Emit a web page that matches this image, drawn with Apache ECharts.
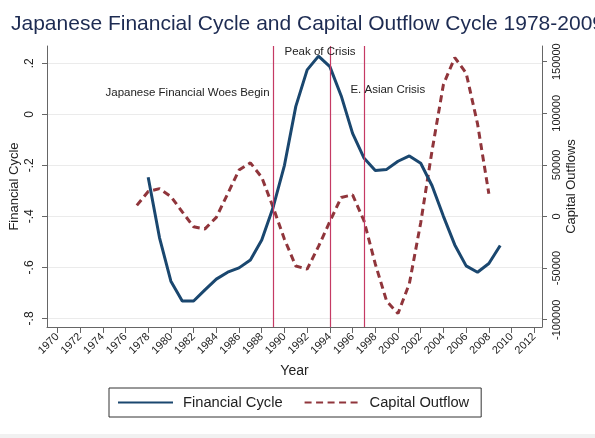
<!DOCTYPE html>
<html>
<head>
<meta charset="utf-8">
<script src="https://cdn.jsdelivr.net/npm/echarts@6/dist/echarts.min.js"></script>
<style>
  html, body { margin: 0; padding: 0; background: #fff; }
  #chart { width: 595px; height: 438px; }
</style>
</head>
<body>
<div id="chart"></div>
<script>
// financial cycle, 1978-2009
const finYears = [1978, 1979, 1980, 1981, 1982, 1983, 1984, 1985, 1986, 1987, 1988, 1989, 1990, 1991, 1992, 1993,
  1994, 1995, 1996, 1997, 1998, 1999, 2000, 2001, 2002, 2003, 2004, 2005, 2006, 2007, 2008, 2009]
const finCycle = [-0.247, -0.484, -0.654, -0.732, -0.732, -0.688, -0.646, -0.619, -0.602, -0.571, -0.493, -0.365,
  -0.200, 0.031, 0.174, 0.228, 0.187, 0.072, -0.075, -0.171, -0.220, -0.216, -0.184, -0.163, -0.192, -0.280,
  -0.400, -0.512, -0.594, -0.619, -0.585, -0.514]

// capital outflow cycle, 1977-2008
const capYears = [1977, 1978, 1979, 1980, 1981, 1982, 1983, 1984, 1985, 1986, 1987, 1988, 1989, 1990, 1991, 1992,
  1993, 1994, 1995, 1996, 1997, 1998, 1999, 2000, 2001, 2002, 2003, 2004, 2005, 2006, 2007, 2008]
const capOutflow = [10800, 24200, 27000, 19400, 4500, -10000, -12000, -800, 22000, 45000, 52000, 38000, 9000,
  -22000, -48000, -51000, -29000, -4800, 18500, 21000, -4000, -46000, -82000, -94000, -65000, -6000, 64000,
  128000, 154000, 139000, 90000, 22000]

const xTicks = [1970, 1972, 1974, 1976, 1978, 1980, 1982, 1984, 1986, 1988, 1990, 1992, 1994, 1996, 1998, 2000,
  2002, 2004, 2006, 2008, 2010, 2012]
const leftTicks = [-0.8, -0.6, -0.4, -0.2, 0, 0.2]
const rightTicks = [-100000, -50000, 0, 50000, 100000, 150000]

const eventYears = [1989, 1994, 1997]
const eventNames = ['Japanese Financial Woes Begin', 'Peak of Crisis', 'E. Asian Crisis']

const font = 'Liberation Sans'
const axisColor = '#666'
const textColor = '#222'

function fmtLeft(v) {
  if (Math.abs(v) < 1e-9) return '0'
  return String(v).replace('0.', '.')
}

const chart = echarts.init(document.getElementById('chart'))
const option = {
  backgroundColor: '#fff',
  animation: false,
  textStyle: { fontFamily: font },
  title: {
    text: 'Japanese Financial Cycle and Capital Outflow Cycle 1978-2009',
    left: 6,
    top: 9,
    textStyle: { fontSize: 21, fontWeight: 'normal', color: '#1d2b52', fontFamily: font }
  },
  grid: { left: 47, right: 53, top: 46, bottom: 111, containLabel: false, outerBoundsMode: 'none' },
  legend: {
    left: 109,
    top: 388,
    padding: [7, 12, 7, 8],
    itemGap: 21,
    itemWidth: 55,
    itemHeight: 14,
    borderColor: '#333',
    borderWidth: 1,
    itemStyle: { opacity: 0 },
    textStyle: { fontSize: 14.7, color: textColor, fontFamily: font, padding: [0, 0, 0, 5] },
    data: ['Financial Cycle', 'Capital Outflow']
  },
  xAxis: {
    type: 'value',
    min: 1969.09,
    max: 2012.68,
    name: 'Year',
    nameLocation: 'middle',
    nameGap: 37,
    nameMoveOverlap: false,
    nameTextStyle: { fontSize: 14, color: textColor },
    axisLine: { show: true, onZero: false, lineStyle: { color: axisColor } },
    axisTick: { show: true, length: 6, customValues: xTicks, lineStyle: { color: axisColor } },
    axisLabel: { customValues: xTicks, rotate: 45, fontSize: 11, color: textColor, margin: 8, formatter: v => String(v) },
    splitLine: { show: false }
  },
  yAxis: [
    {
      type: 'value',
      position: 'left',
      min: -0.8337,
      max: 0.2677,
      name: 'Financial Cycle',
      nameLocation: 'middle',
      nameRotate: 90,
      nameGap: 26,
      nameMoveOverlap: false,
      nameTextStyle: { fontSize: 13, color: textColor },
      axisLine: { show: true, lineStyle: { color: axisColor } },
      axisTick: { show: true, length: 5, customValues: leftTicks, lineStyle: { color: axisColor } },
      axisLabel: { customValues: leftTicks, rotate: 90, fontSize: 12, color: textColor, margin: 11, formatter: fmtLeft },
      splitLine: { show: true, lineStyle: { color: '#ebebeb', width: 1 } }
    },
    {
      type: 'value',
      position: 'right',
      min: -107046,
      max: 165215,
      name: 'Capital Outflows',
      nameLocation: 'middle',
      nameRotate: 90,
      nameGap: 23,
      nameMoveOverlap: false,
      nameTextStyle: { fontSize: 13, color: textColor },
      axisLine: { show: true, lineStyle: { color: axisColor } },
      axisTick: { show: true, length: 5, customValues: rightTicks, lineStyle: { color: axisColor } },
      axisLabel: { customValues: rightTicks, rotate: 90, fontSize: 11, color: textColor, margin: 9, formatter: v => String(v) },
      splitLine: { show: false }
    }
  ],
  series: [
    {
      name: 'Financial Cycle',
      type: 'line',
      yAxisIndex: 0,
      data: finYears.map((y, i) => [y, finCycle[i]]),
      symbol: 'none',
      lineStyle: { color: '#1a476f', width: 3 },
      itemStyle: { color: '#1a476f' },
      z: 3,
      markLine: {
        silent: true,
        symbol: 'none',
        label: { show: false },
        lineStyle: { color: '#c53a64', type: 'solid', width: 1.2 },
        data: eventYears.map(y => ({ xAxis: y }))
      },
      markPoint: {
        silent: true,
        symbol: 'rect',
        symbolSize: 1,
        itemStyle: { color: 'rgba(0,0,0,0)' },
        label: { show: true, position: 'inside', fontSize: 11.5, color: textColor, fontFamily: font },
        data: [
          { coord: [1988.69, 0.085], label: { formatter: eventNames[0], align: 'right' } },
          { coord: [1993.13, 0.245], label: { formatter: eventNames[1], align: 'center' } },
          { coord: [1999.1, 0.094], label: { formatter: eventNames[2], align: 'center' } }
        ]
      }
    },
    {
      name: 'Capital Outflow',
      type: 'line',
      yAxisIndex: 1,
      data: capYears.map((y, i) => [y, capOutflow[i]]),
      symbol: 'none',
      lineStyle: { color: '#90353b', width: 3, type: [7, 4.5] },
      itemStyle: { color: '#90353b' },
      z: 2
    }
  ],
  graphic: [
    { type: 'rect', left: 0, top: 434, shape: { width: 595, height: 4 }, style: { fill: '#f1f1f1' }, silent: true }
  ]
}
chart.setOption(option)
</script>
</body>
</html>
